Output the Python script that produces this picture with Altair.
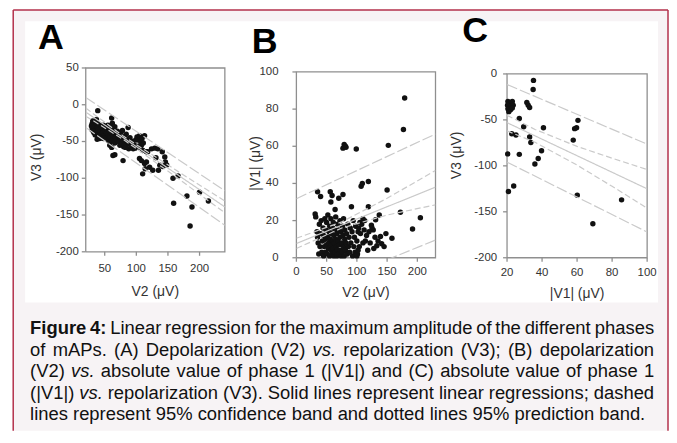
import altair as alt
import pandas as pd

FONT = "Liberation Sans, Arial, Helvetica, sans-serif"

# ---------------- Panel A : V2 vs V3 ----------------
A_V2 = [30, 31, 32, 33, 34, 35, 36, 37, 38, 39, 40, 41, 42, 43, 44, 45, 30, 33, 36, 39,
        42, 31, 34, 37, 40, 38, 45, 29, 32, 35, 39, 61,
        46, 47, 48, 49, 50, 51, 52, 53, 54, 55, 56, 57, 58, 59, 60, 61, 62, 63, 64, 65,
        66, 67, 68, 69, 70, 55, 62, 48, 58, 66, 61, 63, 66, 79,
        71, 72, 73, 74, 75, 76, 77, 78, 79, 80, 81, 82, 84, 85, 86, 88, 89, 90, 92, 94,
        95, 97, 99, 98, 87, 83,
        101, 103, 105, 107, 109, 111, 113, 104, 106, 110, 108, 105, 108, 113, 110, 114, 116,
        118, 124, 129, 134, 141, 145, 146, 142, 135, 126, 121, 116, 131, 137, 148,
        158, 166, 159, 180, 200, 188, 214, 185]
A_V3 = [-26, -30, -24, -33, -28, -22, -31, -27, -35, -25, -30, -38, -27, -33, -40, -29, -34, -38, -36, -42,
        -46, -22, -25, -20, -34, -47, -45, -29, -36, -41, -8, -18,
        -32, -38, -28, -42, -35, -30, -45, -38, -33, -48, -40, -36, -44, -30, -50, -39, -34, -46, -42, -37,
        -52, -44, -40, -48, -36, -28, -25, -46, -55, -30, -58, -69, -68, -76,
        -42, -50, -38, -55, -46, -41, -52, -35, -48, -57, -44, -50, -40, -54, -47, -60, -52, -45, -57, -50,
        -60, -55, -48, -59, -31, -58,
        -44, -48, -42, -50, -46, -52, -42, -56, -58, -62, -55, -73, -76, -80, -94, -87, -64,
        -64, -60, -59, -60, -64, -71, -78, -84, -89, -89, -85, -78, -72, -82, -82,
        -100, -97, -134, -124, -119, -139, -131, -165]

A_FIT_X = [20, 240]
A_FIT_Y = [-10, -139]
A_CONF_X = [20, 80, 160, 240]
A_CONF_UP = [-4.5, -43, -87.5, -131]
A_CONF_LO = [-15.5, -47.5, -96.5, -147]
A_PRED_X = [20, 240]
A_PRED_UP = [10, -117]
A_PRED_LO = [-31, -164]
A_XTICKS = [50, 100, 150, 200]
A_YTICKS = [-200, -150, -100, -50, 0, 50]

# ---------------- Panel B : V2 vs |V1| ----------------
B_V2 = [179, 177, 77, 79, 81, 82, 99, 152, 107, 109, 119, 150,
        35, 40, 56, 59, 77, 70, 57, 64, 91, 119, 31, 172, 205, 192, 158, 137, 131, 124, 127,
        135, 139, 133, 141,
        32, 34, 35, 36, 37, 38, 39, 40, 41, 42, 43, 44, 45, 45, 46, 47, 48, 48, 49, 50,
        50, 51, 52, 52, 53, 54, 54, 55, 55, 56, 57, 57, 58, 58, 59, 60, 60, 61, 61, 62,
        62, 63, 64, 64, 65, 65, 66, 67, 67, 68, 68, 69, 70, 70, 71, 72, 72, 73, 74, 74,
        75, 76, 76, 77, 78, 78, 79, 80, 80, 81, 82, 83, 84, 85, 86, 87, 88, 89, 90, 92,
        93, 94, 95, 96, 97, 98, 100, 101, 102, 104, 105,
        103, 106, 108, 110, 112, 114, 116, 118, 120, 122, 125, 128, 130, 145, 148, 102, 110,
        100, 113]
B_V1 = [86, 69, 59, 61, 60, 59.5, 58.5, 60.5, 38.5, 40, 41, 36.5,
        35.5, 33, 35.5, 33.5, 34, 32, 30, 26, 27.5, 27.5, 23.5, 24.5, 21.5, 15.5, 10.5, 23, 20.5, 17.5, 15,
        9, 11.5, 6.5, 7.5,
        22, 14, 11, 8, 2, 18, 6, 13, 20, 3, 9, 16, 1, 12, 6, 21, 10, 3, 15, 7,
        19, 2, 11, 23, 5, 14, 8, 1, 17, 10, 4, 21, 13, 7, 2, 16, 9, 5, 19, 12,
        1, 8, 15, 3, 22, 10, 6, 13, 1, 18, 4, 9, 15, 2, 7, 11, 20, 4, 14, 1,
        8, 17, 3, 12, 6, 21, 1, 10, 15, 4, 8, 13, 2, 18, 6, 11, 3, 16, 8, 14,
        1, 20, 6, 11, 3, 17, 9, 2, 14, 6, 19,
        16, 13, 18, 8, 15, 9, 12, 4, 14, 8, 16, 5, 11, 6, 13, 4, 21,
        1, 20]

B_FIT_X = [0, 230]
B_FIT_Y = [7.7, 38]
B_CONF_X = [0, 75, 150, 230]
B_CONF_UP = [10.5, 19.3, 32, 47]
B_CONF_LO = [5.0, 16.0, 23, 28.5]
B_PRED_X = [0, 230]
B_PRED_UP = [31.8, 66.6]
B_PRED_LO = [-21, 9.5]
B_XTICKS = [0, 50, 100, 150, 200]
B_YTICKS = [0, 20, 40, 60, 80, 100]

# ---------------- Panel C : |V1| vs V3 ----------------
C_V1 = [35.1, 34.9, 20.5, 21.5, 23, 20.3, 22, 23.5, 20.5, 22, 21, 23, 31.3, 32.1, 32.9,
        27, 29.5, 40.8, 60.5, 59.7, 58.6, 57.8, 22.7, 25.1, 32.9, 33.6, 39.7, 37.8, 35.9,
        20.4, 27, 23.8, 20.8, 60.1, 85.4, 69]
C_V3 = [-7, -17, -30, -31, -30, -34, -35, -34, -38, -39, -41, -37, -31, -34, -36.5,
        -48.5, -57.5, -58.5, -50.5, -58.5, -59.5, -72, -65, -66.5, -68.5, -74.5, -83.5, -92, -98,
        -87, -87.5, -122, -128, -132, -137, -163]

C_FIT_X = [20, 100]
C_FIT_Y = [-53, -125]
C_CONF_X = [20, 36, 60, 80, 100]
C_CONF_UP = [-45, -60.4, -78.8, -91.7, -104]
C_CONF_LO = [-62, -74.4, -99.2, -122.3, -146]
C_PRED_X = [20, 100]
C_PRED_UP = [-11.5, -76.4]
C_PRED_LO = [-96, -172]
C_XTICKS = [20, 40, 60, 80, 100]
C_YTICKS = [-200, -150, -100, -50, 0]

CAPTION = [
    "[b]Figure [b]4: Linear regression for the maximum amplitude of the different phases",
    "of mAPs. (A) Depolarization (V2) [i]vs. repolarization (V3); (B) depolarization",
    "(V2) [i]vs. absolute value of phase 1 (|V1|) and (C) absolute value of phase 1",
    "(|V1|) [i]vs. repolarization (V3). Solid lines represent linear regressions; dashed",
    "lines represent 95% confidence band and dotted lines 95% prediction band.",
]
LETTERS = ["A", "B", "C"]

# ---------------- styling / layout constants ----------------
LINE_COLOR = "#cacaca"
FRAME = "#8f8f8f"
LABEL = "#333333"
BG = "#f7f3f5"
BORDER = "#b3304b"
SPACING = 72
CAP_FS = 18.5
CAP_LEFT, CAP_RIGHT = 17, 645
CAP_BASE = [268, 290, 311.5, 333, 354.5]
LETTER_POS = [(25, -19), (240, -15), (452, -26)]
TICK_LEN = 4

# Helvetica/Arial advance widths (per 1000 em)
REG = {' ': 278, 'a': 556, 'b': 556, 'c': 500, 'd': 556, 'e': 556, 'f': 278, 'g': 556,
       'h': 556, 'i': 222, 'j': 222, 'k': 500, 'l': 222, 'm': 833, 'n': 556, 'o': 556,
       'p': 556, 'q': 556, 'r': 333, 's': 500, 't': 278, 'u': 556, 'v': 500, 'w': 722,
       'x': 500, 'y': 500, 'z': 500, 'A': 667, 'B': 667, 'C': 722, 'D': 722, 'E': 667,
       'F': 611, 'L': 556, 'P': 667, 'S': 667, 'V': 667, '(': 333, ')': 333, '|': 260,
       '.': 278, ',': 278, ';': 278, ':': 278, '%': 889}
for d in "0123456789":
    REG[d] = 556
BOLD = dict(REG)
BOLD.update({'F': 611, 'i': 278, 'g': 611, 'u': 611, 'r': 389, 'e': 556, ':': 333})


def wwidth(word, style):
    tab = BOLD if style == "b" else REG
    return sum(tab.get(ch, 556) for ch in word) / 1000.0 * CAP_FS


rows = []
for li, line in enumerate(CAPTION):
    words = []
    for tok in line.split(" "):
        st = "n"
        if tok.startswith("[b]"):
            st, tok = "b", tok[3:]
        elif tok.startswith("[i]"):
            st, tok = "i", tok[3:]
        words.append((tok, st, wwidth(tok, st)))
    total = sum(w[2] for w in words)
    if li < len(CAPTION) - 1:
        gap = (CAP_RIGHT - CAP_LEFT - total) / (len(words) - 1)
    else:
        gap = REG[' '] / 1000.0 * CAP_FS
    x = CAP_LEFT
    for tok, st, w in words:
        rows.append({"w": tok, "st": st, "px": x, "py": CAP_BASE[li]})
        x += w + gap
cap_df = pd.DataFrame(rows)

one = pd.DataFrame({"a": [0]})


def rect(color, x1, x2, y1, y2):
    return alt.Chart(one).mark_rect(color=color).encode(
        x=alt.value(x1), x2=alt.value(x2), y=alt.value(y1), y2=alt.value(y2))


def rule(x1, x2, y1, y2, color=BORDER, sw=1.5):
    return alt.Chart(one).mark_rule(color=color, strokeWidth=sw).encode(
        x=alt.value(x1), x2=alt.value(x2), y=alt.value(y1), y2=alt.value(y2))


def cap_layer(style):
    kw = {}
    if style == "b":
        kw["fontWeight"] = "bold"
    if style == "i":
        kw["fontStyle"] = "italic"
    return alt.Chart(cap_df[cap_df.st == style]).mark_text(
        font=FONT, fontSize=CAP_FS, align="left", baseline="alphabetic", color="#111", **kw
    ).encode(x=alt.X("px:Q", scale=None, axis=None), y=alt.Y("py:Q", scale=None, axis=None), text="w:N")


let_df = pd.DataFrame({"t": LETTERS, "px": [p[0] for p in LETTER_POS], "py": [p[1] for p in LETTER_POS]})
letters = alt.Chart(let_df).mark_text(
    font=FONT, fontSize=36, fontWeight="bold", align="left", baseline="alphabetic", color="#000"
).encode(x=alt.X("px:Q", scale=None, axis=None), y=alt.Y("py:Q", scale=None, axis=None), text="t:N")

decor = alt.layer(
    rect("transparent", 0, 10, -63, -63),
    rect(BG, 0, 659, -58.25, 365),
    rect("#ffffff", 12, 649, -47, 236),
    rule(0, 0, -58.25, 365),
    rule(659, 659, -58.25, 365),
    rule(0, 659, -58.25, -58.25),
    letters,
    cap_layer("n"), cap_layer("b"), cap_layer("i"),
).properties(width=1, height=185, view=alt.ViewBackground(strokeOpacity=0))


def lines_df(fx, fy, cx, cu, cl, px, pu, pl):
    r = []
    for x, y in zip(fx, fy):
        r.append({"x": x, "y": y, "band": "fit", "kind": "fit"})
    for x, y in zip(cx, cu):
        r.append({"x": x, "y": y, "band": "cu", "kind": "conf"})
    for x, y in zip(cx, cl):
        r.append({"x": x, "y": y, "band": "cl", "kind": "conf"})
    for x, y in zip(px, pu):
        r.append({"x": x, "y": y, "band": "pu", "kind": "pred"})
    for x, y in zip(px, pl):
        r.append({"x": x, "y": y, "band": "pl", "kind": "pred"})
    return pd.DataFrame(r)


def txt(text, x, y, size, angle=0, align="center"):
    return alt.Chart(one).mark_text(font=FONT, fontSize=size, color=LABEL, align=align,
                                    baseline="middle", angle=angle).encode(
        x=alt.value(x), y=alt.value(y), text=alt.value(text))


def panel(xs, ys, ldf, xdom, ydom, xticks, yticks, xtitle, ytitle, width, gh, ytop,
          xlab_y, ylab_x, ytit_x, ytit_y, xtit_y):
    xsc = alt.Scale(domain=xdom, nice=False, zero=False)
    ysc = alt.Scale(domain=ydom, nice=False, zero=False, range=[gh, ytop])
    pts = alt.Chart(pd.DataFrame({"x": xs, "y": ys})).mark_circle(
        size=30, color="#111", opacity=1).encode(
        x=alt.X("x:Q", scale=xsc, axis=None),
        y=alt.Y("y:Q", scale=ysc, axis=None),
    )
    lns = alt.Chart(ldf).mark_line(color=LINE_COLOR, strokeWidth=1.2, clip=True).encode(
        x=alt.X("x:Q", axis=None), y=alt.Y("y:Q", axis=None), detail="band:N",
        strokeDash=alt.StrokeDash("kind:N", scale=alt.Scale(domain=["fit", "conf", "pred"],
                                                            range=[[1, 0], [6, 3], [11, 3]]), legend=None),
    )
    # plot frame and axis ticks, drawn as line paths through the scales
    dx = TICK_LEN * (xdom[1] - xdom[0]) / width
    dy = TICK_LEN * (ydom[1] - ydom[0]) / (gh - ytop)
    fr = [
        dict(x=xdom[0], y=ydom[0], id="f", o=0), dict(x=xdom[0], y=ydom[1], id="f", o=1),
        dict(x=xdom[1], y=ydom[1], id="f", o=2), dict(x=xdom[1], y=ydom[0], id="f", o=3),
        dict(x=xdom[0], y=ydom[0], id="f", o=4),
    ]
    for v in xticks:
        fr += [dict(x=v, y=ydom[0], id="x%s" % v, o=0), dict(x=v, y=ydom[0] - dy, id="x%s" % v, o=1)]
    for v in yticks:
        fr += [dict(x=xdom[0], y=v, id="y%s" % v, o=0), dict(x=xdom[0] - dx, y=v, id="y%s" % v, o=1)]
    frame = alt.Chart(pd.DataFrame(fr)).mark_line(color=FRAME, strokeWidth=1.3).encode(
        x=alt.X("x:Q", axis=None), y=alt.Y("y:Q", axis=None), detail="id:N", order="o:Q")
    xt = pd.DataFrame({"v": xticks, "lab": [str(v) for v in xticks]})
    yt = pd.DataFrame({"v": yticks, "lab": [str(v) for v in yticks]})
    xlab = alt.Chart(xt).mark_text(font=FONT, fontSize=11.5, color=LABEL, baseline="middle").encode(
        x=alt.X("v:Q", axis=None), y=alt.value(xlab_y), text="lab:N")
    ylab = alt.Chart(yt).mark_text(font=FONT, fontSize=11.5, color=LABEL, baseline="middle", align="right").encode(
        y=alt.Y("v:Q", axis=None), x=alt.value(ylab_x), text="lab:N")
    titles = [
        txt(xtitle, width / 2, xtit_y, 14),
        txt(ytitle, ytit_x, ytit_y, 14, angle=270),
    ]
    return alt.layer(frame, pts, lns, xlab, ylab, *titles).properties(width=width, height=gh)


pA = panel(A_V2, A_V3, lines_df(A_FIT_X, A_FIT_Y, A_CONF_X, A_CONF_UP, A_CONF_LO, A_PRED_X, A_PRED_UP, A_PRED_LO),
           [20, 240], [-200, 50], A_XTICKS, A_YTICKS, "V2 (μV)", "V3 (μV)",
           140, 185, 0, 202.5, -7, -49, 90, 225)
pB = panel(B_V2, B_V1, lines_df(B_FIT_X, B_FIT_Y, B_CONF_X, B_CONF_UP, B_CONF_LO, B_PRED_X, B_PRED_UP, B_PRED_LO),
           [0, 230], [0, 100], B_XTICKS, B_YTICKS, "V2 (μV)", "|V1| (μV)",
           140, 191, 4, 205.7, -18, -41, 96, 226.5)
pC = panel(C_V1, C_V3, lines_df(C_FIT_X, C_FIT_Y, C_CONF_X, C_CONF_UP, C_CONF_LO, C_PRED_X, C_PRED_UP, C_PRED_LO),
           [20, 100], [-200, 0], C_XTICKS, C_YTICKS, "|V1| (μV)", "V3 (μV)",
           141, 191, 6, 206, -10, -50, 88, 228)

chart = alt.hconcat(decor, pA, pB, pC, spacing=SPACING, bounds="flush").properties(
    padding={"left": 4.25, "top": -4, "right": 0, "bottom": 0}
).configure_view(strokeOpacity=0)

chart.save("out.html", embed_options={"renderer": "svg", "actions": False})
